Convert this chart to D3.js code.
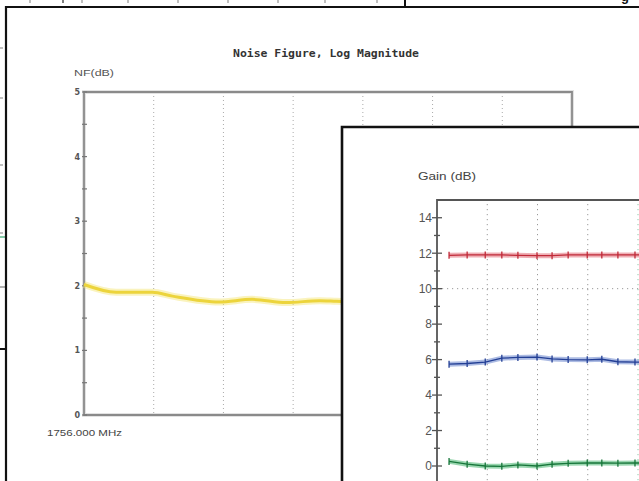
<!DOCTYPE html>
<html><head><meta charset="utf-8">
<script src="https://cdn.jsdelivr.net/npm/d3@7"></script>
<style>html,body{margin:0;padding:0;background:#fff;overflow:hidden}</style>
</head><body>
<svg id="c" width="639" height="481"></svg>
<script>
// ---- Data ----
// Noise figure window (x in grid divisions from start frequency)
const nfTitle = "Noise Figure, Log Magnitude";
const nfYLabel = "NF(dB)";
const nfStartLabel = "1756.000 MHz";
const nfYTicks = [0, 1, 2, 3, 4, 5];
const nfX = [0, 0.46, 0.98, 1.27, 1.94, 2.41, 2.9, 3.38, 3.62, 3.9, 4.3];
const nfValues = [2.02, 1.9, 1.9, 1.84, 1.75, 1.79, 1.74, 1.77, 1.76, 1.75, 1.75];

// Gain window
const gainYLabel = "Gain (dB)";
const gainYTicks = [0, 2, 4, 6, 8, 10, 12, 14];
const gainX = [0.24, 0.6, 0.96, 1.29, 1.61, 1.99, 2.29, 2.61, 2.99, 3.28, 3.6, 3.94, 4.27];
const gainRed = [11.88, 11.9, 11.9, 11.9, 11.88, 11.86, 11.86, 11.9, 11.9, 11.9, 11.9, 11.9, 11.9];
const gainBlue = [5.74, 5.78, 5.86, 6.08, 6.12, 6.14, 6.04, 6.0, 5.99, 6.02, 5.88, 5.86, 5.86];
const gainGreen = [0.26, 0.1, 0.0, -0.02, 0.06, 0.0, 0.1, 0.15, 0.17, 0.17, 0.16, 0.17, 0.17];

const svg = d3.select("#c");
svg.append("rect").attr("width", 639).attr("height", 481).attr("fill", "#fff");

// ---- Background window remnants ----
const topTicks = [30, 63, 82, 128, 178, 228, 278, 325, 377];
svg.selectAll(".tt").data(topTicks).enter().append("line")
  .attr("x1", d => d).attr("x2", d => d).attr("y1", 0).attr("y2", 3)
  .attr("stroke", (d, i) => i === 1 ? "#555" : "#aaa").attr("stroke-width", 1.5);
svg.append("line").attr("x1", 405).attr("x2", 405).attr("y1", 0).attr("y2", 7)
  .attr("stroke", "#111").attr("stroke-width", 2);
svg.append("text").attr("x", 621).attr("y", 1).attr("font-family", "Liberation Sans, Arial")
  .attr("font-size", 13).attr("font-weight", "bold").attr("fill", "#111").text("g");
const leftTicks = [{y: 48, c: "#aaa", w: 3}, {y: 98, c: "#aaa", w: 3}, {y: 165, c: "#aaa", w: 3},
  {y: 233, c: "#aaa", w: 3}, {y: 237, c: "#5cb88a", w: 5}, {y: 287, c: "#999", w: 6}, {y: 349, c: "#111", w: 6}];
svg.selectAll(".lt").data(leftTicks).enter().append("line")
  .attr("x1", 0).attr("x2", d => d.w).attr("y1", d => d.y).attr("y2", d => d.y)
  .attr("stroke", d => d.c).attr("stroke-width", d => d.c === "#111" ? 2 : 1.5);

// ---- Window 1: Noise figure ----
const w1 = svg.append("g");
w1.append("rect").attr("x", 6).attr("y", 7).attr("width", 640).attr("height", 480).attr("fill", "#fff");
w1.append("line").attr("x1", 5).attr("x2", 639).attr("y1", 7).attr("y2", 7).attr("stroke", "#111").attr("stroke-width", 2.2);
w1.append("line").attr("x1", 6).attr("x2", 6).attr("y1", 6).attr("y2", 481).attr("stroke", "#111").attr("stroke-width", 2.2);

const nfx = d3.scaleLinear().domain([0, 7]).range([84, 572]);
const nfy = d3.scaleLinear().domain([0, 5]).range([415, 92]);

w1.append("text").attr("x", 326).attr("y", 57).attr("text-anchor", "middle")
  .attr("font-family", "DejaVu Sans Mono, monospace").attr("font-weight", "bold").attr("font-size", 10)
  .attr("fill", "#333").attr("textLength", 186).attr("lengthAdjust", "spacingAndGlyphs").text(nfTitle);
w1.append("text").attr("x", 74).attr("y", 76)
  .attr("font-family", "Liberation Sans, Arial").attr("font-size", 9)
  .attr("fill", "#555").attr("textLength", 40).attr("lengthAdjust", "spacingAndGlyphs").text(nfYLabel);
w1.append("text").attr("x", 47).attr("y", 436)
  .attr("font-family", "Liberation Sans, Arial").attr("font-size", 9)
  .attr("fill", "#444").attr("textLength", 75).attr("lengthAdjust", "spacingAndGlyphs").text(nfStartLabel);

// gridlines
w1.selectAll(".nfg").data(nfx.ticks(7).slice(1, -1)).enter().append("line")
  .attr("x1", d => nfx(d)).attr("x2", d => nfx(d)).attr("y1", nfy(5)).attr("y2", nfy(0))
  .attr("stroke", "#aaa").attr("stroke-width", 1).attr("stroke-dasharray", "1,3");
// frame
w1.append("path").attr("d", `M${nfx(0)},${nfy(0)}V${nfy(5)}H${nfx(7)}V${nfy(0)}Z`)
  .attr("fill", "none").attr("stroke", "#e2e2e2").attr("stroke-width", 4);
w1.append("path").attr("d", `M${nfx(0)},${nfy(0)}V${nfy(5)}H${nfx(7)}V${nfy(0)}Z`)
  .attr("fill", "none").attr("stroke", "#8a8a8a").attr("stroke-width", 1.8);
// y axis via d3 axis (labels)
const nfAxis = w1.append("g").attr("transform", `translate(${nfx(0) - 3},0)`)
  .call(d3.axisLeft(nfy).tickValues(nfYTicks).tickFormat(d3.format("d")).tickSize(0).tickPadding(1));
nfAxis.select(".domain").remove();
nfAxis.selectAll("text").attr("font-family", "DejaVu Sans, sans-serif").attr("font-weight", "bold")
  .attr("font-size", 8).attr("fill", "#555");
// tick marks
w1.selectAll(".nft").data(nfy.ticks(10)).enter().append("line")
  .attr("x1", nfx(0) - 2).attr("x2", nfx(0) + 3).attr("y1", d => nfy(d)).attr("y2", d => nfy(d))
  .attr("stroke", "#777").attr("stroke-width", 1.2);
// yellow trace
const nfLine = d3.line().x((d, i) => nfx(nfX[i])).y(d => nfy(d)).curve(d3.curveMonotoneX);
w1.append("path").attr("d", nfLine(nfValues)).attr("fill", "none")
  .attr("stroke", "rgba(245,228,110,0.45)").attr("stroke-width", 7);
w1.append("path").attr("d", nfLine(nfValues)).attr("fill", "none")
  .attr("stroke", "#ecd43c").attr("stroke-width", 3);

// ---- Window 2: Gain ----
const w2 = svg.append("g");
w2.append("rect").attr("x", 342).attr("y", 127).attr("width", 320).attr("height", 380).attr("fill", "#fff");
w2.append("path").attr("d", "M342,490V127H650").attr("fill", "none").attr("stroke", "#111").attr("stroke-width", 2.6);

const gx = d3.scaleLinear().domain([0, 4]).range([437, 638]);
const gy = d3.scaleLinear().domain([0, 15]).range([466, 200]);

w2.append("text").attr("x", 418).attr("y", 180)
  .attr("font-family", "Liberation Sans, Arial").attr("font-size", 11)
  .attr("fill", "#444").attr("textLength", 58).attr("lengthAdjust", "spacingAndGlyphs").text(gainYLabel);

// gridlines
w2.selectAll(".gg").data([1, 2, 3, 4]).enter().append("line")
  .attr("x1", d => gx(d)).attr("x2", d => gx(d)).attr("y1", gy(15) + 4).attr("y2", 481)
  .attr("stroke", (d, i) => i === 3 ? "#8cc9a8" : "#999").attr("stroke-width", 1).attr("stroke-dasharray", "1.2,3.8");
w2.append("line").attr("x1", gx(0)).attr("x2", 640).attr("y1", gy(10)).attr("y2", gy(10))
  .attr("stroke", "#999").attr("stroke-width", 1).attr("stroke-dasharray", "1.2,3.8");
// frame
w2.append("path").attr("d", `M${gx(0)},481V${gy(15)}H640`).attr("fill", "none")
  .attr("stroke", "#555").attr("stroke-width", 1.8);
// axis labels via d3 axis
const gAxis = w2.append("g").attr("transform", `translate(${gx(0) - 5},0)`)
  .call(d3.axisLeft(gy).tickValues(gainYTicks).tickSize(0).tickPadding(0));
gAxis.select(".domain").remove();
gAxis.selectAll("text").attr("font-family", "Liberation Sans, Arial").attr("font-size", 12)
  .attr("fill", "#555");
// ticks (major cross, minor)
w2.selectAll(".gt").data(gy.ticks(15).filter(d => d <= 14)).enter().append("line")
  .attr("x1", d => gx(0) - (d % 2 === 0 ? 5 : 3)).attr("x2", d => gx(0) + (d % 2 === 0 ? 5 : 3))
  .attr("y1", d => gy(d)).attr("y2", d => gy(d))
  .attr("stroke", "#555").attr("stroke-width", 1.3);

const gLine = d3.line().x((d, i) => gx(gainX[i])).y(d => gy(d));
const series = [
  {v: gainRed, band: "rgba(226,110,120,0.55)", line: "#c02a38"},
  {v: gainBlue, band: "rgba(90,120,200,0.5)", line: "#233f95"},
  {v: gainGreen, band: "rgba(70,180,110,0.55)", line: "#17763a"}
];
series.forEach(s => {
  w2.append("path").attr("d", gLine(s.v)).attr("fill", "none").attr("stroke", s.band).attr("stroke-width", 5);
  w2.append("path").attr("d", gLine(s.v)).attr("fill", "none").attr("stroke", s.line).attr("stroke-width", 1.3);
  w2.selectAll(null).data(s.v).enter().append("line")
    .attr("x1", (d, i) => gx(gainX[i])).attr("x2", (d, i) => gx(gainX[i]))
    .attr("y1", d => gy(d) - 3.5).attr("y2", d => gy(d) + 3.5)
    .attr("stroke", s.line).attr("stroke-width", 1.3);
});
</script>
</body></html>
